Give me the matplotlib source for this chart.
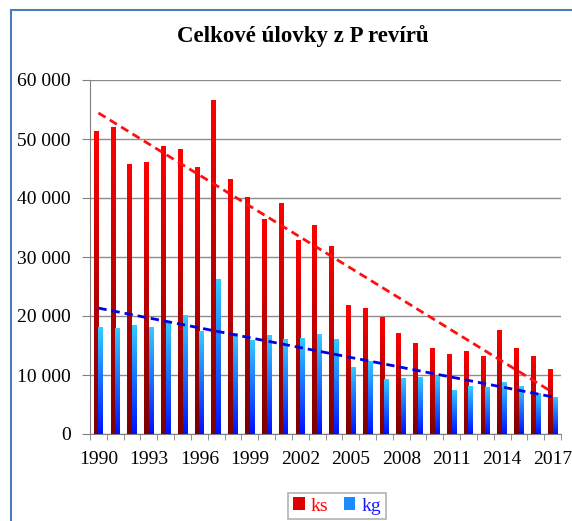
import numpy as np
import matplotlib
matplotlib.use('Agg')
import matplotlib.pyplot as plt
from matplotlib.patches import Rectangle
from matplotlib.colors import LinearSegmentedColormap

plt.rcParams['font.family'] = ['Liberation Serif', 'DejaVu Serif']

years = list(range(1990, 2018))
ks = [51400, 52000, 45800, 46100, 48800, 48300, 45200, 56600, 43200, 40100,
      36500, 39100, 32800, 35400, 31900, 21900, 21400, 19800, 17100, 15500,
      14600, 13500, 14100, 13200, 17700, 14600, 13200, 11000]
kg = [18100, 18000, 18400, 18200, 19100, 20200, 17400, 26300, 17100, 16000,
      16800, 16100, 16300, 16900, 16100, 11400, 12400, 9300, 9500, 9700,
      9800, 7500, 8100, 8000, 8800, 8100, 6900, 6300]
tick_years = [1990, 1993, 1996, 1999, 2002, 2005, 2008, 2011, 2014, 2017]
yticks = [0, 10000, 20000, 30000, 40000, 50000, 60000]

red_cmap = LinearSegmentedColormap.from_list('r', ['#7a0000', '#ff0000'])
blue_cmap = LinearSegmentedColormap.from_list('b', ['#0010ff', '#33ccff'])

fig = plt.figure(figsize=(5.72, 5.21), dpi=100)
ax = fig.add_axes([90 / 572, 1 - 434 / 521, 471 / 572, 354 / 521])

x = np.arange(len(years))
w = 0.28
grad = np.linspace(0, 1, 64).reshape(-1, 1)


def gradient_bars(xpos, vals, cmap):
    bars = ax.bar(xpos, vals, width=w, color='none', edgecolor='none', zorder=3)
    for b in bars:
        x0, y0 = b.get_x(), b.get_y()
        im = ax.imshow(grad, cmap=cmap, origin='lower', aspect='auto',
                       extent=(x0, x0 + b.get_width(), y0, y0 + b.get_height()),
                       zorder=3)
        im.set_clip_path(b)


gradient_bars(x - w / 2, ks, red_cmap)
gradient_bars(x + w / 2, kg, blue_cmap)

# linear trends
pr = np.polyfit(x, ks, 1)
pb = np.polyfit(x, kg, 1)
ax.plot(x, np.polyval(pr, x), color='#ff1010', lw=2, ls=(0, (3, 1.8)), zorder=4)
ax.plot(x, np.polyval(pb, x), color='#0000e6', lw=2, ls=(0, (3, 1.8)), zorder=4)

ax.set_xlim(-0.5, len(years) - 0.5)
ax.set_ylim(0, 60000)
ax.set_yticks(yticks)
ax.set_yticklabels([f'{v:,}'.replace(',', ' ') for v in yticks])
ax.set_xticks([years.index(t) for t in tick_years])
ax.set_xticklabels([str(t) for t in tick_years])
ax.set_xticks(np.arange(-0.5, len(years)), minor=True)
ax.tick_params(axis='x', which='major', length=0, pad=12, labelsize=14)
ax.tick_params(axis='x', which='minor', length=4, color='#808080')
ax.tick_params(axis='y', length=6, color='#808080', pad=8, labelsize=14)
ax.yaxis.grid(True, color='#8c8c8c', lw=1)
ax.set_axisbelow(True)
for s in ['top', 'right']:
    ax.spines[s].set_visible(False)
for s in ['left', 'bottom']:
    ax.spines[s].set_color('#808080')

fig.text(303 / 572, 1 - 36 / 521, 'Celkové úlovky z P revírů', ha='center',
         va='center', fontsize=16.5, fontweight='bold')

handles = [Rectangle((0, 0), 1, 1, facecolor='#e00000'),
           Rectangle((0, 0), 1, 1, facecolor='#1a8cff')]
leg = fig.legend(handles, ['ks', 'kg'], loc='center', ncol=2,
                 bbox_to_anchor=(337 / 572, 1 - 506 / 521), fontsize=14,
                 frameon=True, fancybox=False, edgecolor='#a0a0a0',
                 handlelength=0.6, handleheight=0.6, handletextpad=0.3,
                 columnspacing=0.8, borderpad=0.25)
leg.get_frame().set_linewidth(1.2)
for t, c in zip(leg.get_texts(), ['#ff0000', '#1a1aff']):
    t.set_color(c)

# outer frame, cut off at the right and bottom like the source
fig.add_artist(Rectangle((11 / 572, -0.1), 2.0, 1 - 10 / 521 + 0.1,
                         transform=fig.transFigure, fill=False,
                         edgecolor='#4a7ebb', lw=1.5))

fig.savefig('out.png', dpi=100)
